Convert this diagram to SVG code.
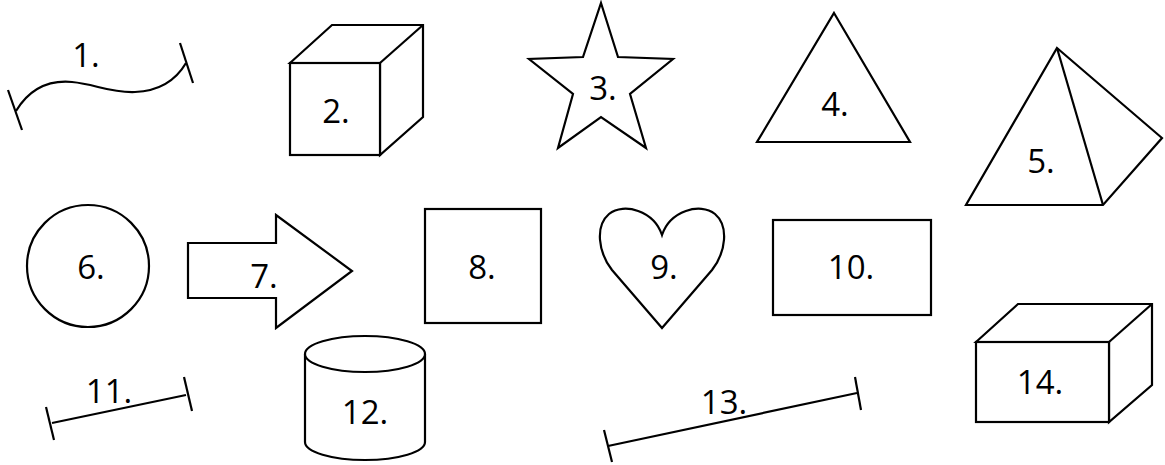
<svg xmlns="http://www.w3.org/2000/svg" width="1165" height="465" viewBox="0 0 1165 465">
<style>
.s{fill:#fff;stroke:#000;stroke-width:2.2;stroke-linejoin:miter}
.l{fill:none;stroke:#000;stroke-width:2.2}
.t{font-family:"Open Sans","Noto Sans",sans-serif;font-size:33px;fill:#000;text-anchor:middle}
</style>
<rect width="1165" height="465" fill="#fff"/>
<g id="n1">
<path class="l" d="M16,111 C30,88 50,80 72,82 C95,84 110,93 135,92 C160,91 176,80 186,63" stroke-width="3"/>
<line class="l" x1="8" y1="90" x2="22" y2="130" stroke-width="2.5"/>
<line class="l" x1="180" y1="43" x2="193" y2="83" stroke-width="2.5"/>
<text class="t" x="86" y="67">1.</text>
</g>
<g id="n2">
<path class="s" d="M290,63 L332,25 L423,25 L423,117 L380,155 L380,63 Z"/>
<line class="l" x1="380" y1="63" x2="423" y2="25"/>
<rect class="s" x="290" y="63" width="90" height="92"/>
<text class="t" x="336" y="123">2.</text>
</g>
<g id="n3">
<polygon class="s" points="601,3 618,57 673,59 630,94 646,148 601,117 558,148 573,94 529,59 583,57"/>
<text class="t" x="603" y="100">3.</text>
</g>
<g id="n4">
<polygon class="s" points="834,13 910,142 757,142"/>
<text class="t" x="835" y="116">4.</text>
</g>
<g id="n5">
<polygon class="s" points="1057,48 1162,138 1103,205 966,205"/>
<line class="l" x1="1057" y1="48" x2="1103" y2="205"/>
<text class="t" x="1041" y="173">5.</text>
</g>
<g id="n6">
<circle class="s" cx="88" cy="266" r="61"/>
<text class="t" x="91" y="279">6.</text>
</g>
<g id="n7">
<polygon class="s" points="188,243 276,243 276,215 352,271 276,328 276,298 188,298"/>
<text class="t" x="264" y="288">7.</text>
</g>
<g id="n8">
<rect class="s" x="425" y="209" width="116" height="114"/>
<text class="t" x="482" y="279">8.</text>
</g>
<g id="n9">
<path class="s" d="M662,235 C654,211 624,202 609,214 C595,226 598,252 612,270 L662,328 L712,270 C726,252 729,226 715,214 C700,202 670,211 662,235 Z"/>
<text class="t" x="664" y="279">9.</text>
</g>
<g id="n10">
<rect class="s" x="773" y="220" width="158" height="95"/>
<text class="t" x="851" y="279">10.</text>
</g>
<g id="n11">
<line class="l" x1="52" y1="423" x2="186" y2="395" stroke="#333"/>
<line class="l" x1="46" y1="407" x2="54" y2="440" stroke="#333"/>
<line class="l" x1="184" y1="377" x2="192" y2="411" stroke="#333"/>
<text class="t" x="109" y="403">11.</text>
</g>
<g id="n12">
<path class="s" d="M305,354 L305,442 A60,18 0 0 0 425,442 L425,354"/>
<ellipse class="s" cx="365" cy="354" rx="60" ry="18"/>
<text class="t" x="365" y="424">12.</text>
</g>
<g id="n13">
<line class="l" x1="608" y1="446" x2="857" y2="393"/>
<line class="l" x1="604" y1="430" x2="612" y2="462"/>
<line class="l" x1="855" y1="377" x2="861" y2="410"/>
<text class="t" x="724" y="414">13.</text>
</g>
<g id="n14">
<path class="s" d="M976,342 L1018,304 L1152,304 L1152,385 L1109,422 L1109,342 Z"/>
<line class="l" x1="1109" y1="342" x2="1152" y2="304"/>
<rect class="s" x="976" y="342" width="133" height="80"/>
<text class="t" x="1040" y="394">14.</text>
</g>
</svg>
